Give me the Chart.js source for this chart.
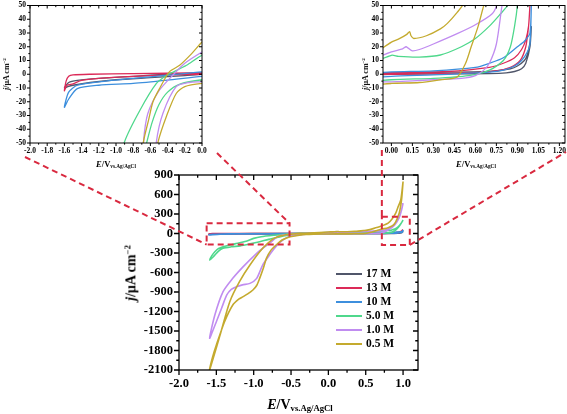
<!DOCTYPE html>
<html>
<head>
<meta charset="utf-8">
<script src="https://cdn.jsdelivr.net/npm/chart.js@4.4.1/dist/chart.umd.min.js"></script>
<style>
  body { margin: 0; background: #fff; width: 567px; height: 414px; position: relative; overflow: hidden;
         font-family: "Liberation Serif", "Times New Roman", serif; }
  canvas { position: absolute; }
  .t { position: absolute; font-weight: bold; white-space: nowrap; color: #000; line-height: 1; }
  .t sub { font-size: 0.62em; vertical-align: -0.25em; }
  .t sup { font-size: 0.62em; vertical-align: 0.6em; }
  .leg { position: absolute; font-weight: bold; font-size: 11.5px; display: flex; align-items: center; line-height: 1; }
  .leg span.ln { display: inline-block; width: 26px; height: 2px; margin-right: 4px; }
</style>
</head>
<body>
<canvas id="left" width="210" height="170" style="left:0;top:0"></canvas>
<canvas id="right" width="217" height="170" style="left:350px;top:0"></canvas>
<canvas id="main" width="295" height="230" style="left:130px;top:165px"></canvas>
<canvas id="overlay" width="567" height="414" style="left:0;top:0;pointer-events:none"></canvas>

<div class="t" style="left:7px;top:74px;font-size:8px;transform:translate(-50%,-50%) rotate(-90deg)"><i>j</i>/μA cm<sup>−2</sup></div>
<div class="t" style="left:116px;top:160px;font-size:8.5px;transform:translateX(-50%)"><i>E</i>/V<sub>vs.Ag/AgCl</sub></div>
<div class="t" style="left:366px;top:74px;font-size:8px;transform:translate(-50%,-50%) rotate(-90deg)"><i>j</i>/μA cm<sup>−2</sup></div>
<div class="t" style="left:476px;top:160px;font-size:8.5px;transform:translateX(-50%)"><i>E</i>/V<sub>vs.Ag/AgCl</sub></div>
<div class="t" style="left:131px;top:273px;font-size:14px;transform:translate(-50%,-50%) rotate(-90deg)"><i>j</i>/μA cm<sup>−2</sup></div>
<div class="t" style="left:300px;top:398px;font-size:14px;transform:translateX(-50%)"><i>E</i>/V<sub>vs.Ag/AgCl</sub></div>
<div id="legend"></div>

<script>
// concentrations (legend order)
const seriesNames = ['17 M', '13 M', '10 M', '5.0 M', '1.0 M', '0.5 M'];

// CV loops, [E (V vs Ag/AgCl), j (uA cm-2)]
const cv17 = [[1.0,35],[0.99,23],[0.97,14],[0.95,10],[0.9,6],[0.85,4],[0.7,2],[0.4,1.5],[0,1],[-0.4,0],[-0.8,-1.5],
  [-1.2,-3],[-1.45,-4.5],[-1.55,-6],[-1.6,-10],
  [-1.56,-9],[-1.5,-8],[-1.3,-6],[-1.0,-4],[-0.6,-2.5],[-0.2,-1],[0,0],[0.4,0.3],[0.7,0.5],[0.82,1],[0.88,2],
  [0.93,4],[0.96,8],[0.99,20],[1.0,35]];
const cv13 = [[1.0,60],[0.99,50],[0.98,35],[0.96,25],[0.93,18],[0.88,12],[0.8,8],[0.7,5],[0.4,2],[0,1],[-0.8,0.5],
  [-1.3,0],[-1.5,-0.5],[-1.55,-1.5],[-1.58,-5],[-1.6,-12],
  [-1.57,-8],[-1.5,-7],[-1.4,-4.5],[-1.2,-3],[-0.8,-1.5],[-0.4,-0.5],[0,0],[0.5,0.8],[0.75,2.5],[0.85,5],[0.92,10],
  [0.96,20],[0.98,35],[0.99,50],[1.0,60]];
const cv10 = [[1.0,55],[0.99,30],[0.95,24],[0.9,20],[0.8,12],[0.7,8],[0.6,5],[0.3,2.5],[0,1.7],[-0.4,-0.7],[-0.8,-3],
  [-1.2,-5.6],[-1.45,-8],[-1.55,-13],[-1.6,-24],
  [-1.55,-18],[-1.45,-10.4],[-1.2,-8],[-0.8,-6.7],[-0.4,-4.3],[0,-1.5],[0.3,-0.5],[0.5,0.5],[0.7,1.5],[0.8,3],
  [0.88,6],[0.93,10],[0.97,16],[0.99,22],[1.0,50]];
const cv5 = [[1.0,208],[0.97,150],[0.93,100],[0.89,70],[0.85,55],[0.83,50],[0.78,44],[0.7,35],[0.6,26],[0.5,20],
  [0.35,14],[0.2,12.5],[0.05,13],[0,13.8],[-0.18,6.5],[-0.33,1.7],[-0.41,-0.7],[-0.53,-6.7],[-0.72,-26],[-0.9,-49],
  [-1.0,-75],[-1.1,-120],[-1.25,-160],[-1.36,-188],[-1.47,-230],[-1.52,-280],[-1.56,-340],[-1.59,-410],
  [-1.54,-357],[-1.47,-270],[-1.41,-228],[-1.3,-205],[-1.18,-190],[-1.05,-160],[-0.92,-126],[-0.8,-90],[-0.7,-65],
  [-0.64,-49],[-0.58,-35],[-0.5,-22],[-0.4,-13],[-0.25,-7],[0,-4],[0.3,-3],[0.55,-1],[0.7,3],[0.8,10],[0.85,20],
  [0.88,35],[0.9,50],[0.94,100],[0.97,150],[1.0,208]];
const cv1 = [[1.0,465],[0.97,320],[0.945,235],[0.9,150],[0.85,100],[0.8,68],[0.76,52],[0.72,44],[0.6,36],[0.47,29.5],
  [0.3,22],[0.2,18],[0.15,17],[0.12,19],[0.105,20],[0.08,18.5],[0,16.2],[-0.2,8],[-0.34,-0.7],[-0.5,-12],
  [-0.63,-28.5],[-0.68,-49],[-0.79,-151],[-0.88,-230],[-0.96,-305],[-1.14,-510],[-1.28,-690],[-1.41,-895],
  [-1.52,-1254],[-1.59,-1612],
  [-1.5,-1357],[-1.43,-1150],[-1.36,-946],[-1.3,-860],[-1.23,-818],[-1.15,-790],[-1.05,-767],[-0.96,-690],
  [-0.88,-485],[-0.8,-350],[-0.74,-254],[-0.67,-160],[-0.61,-100],[-0.53,-49],[-0.455,-28.5],[-0.3,-9],[-0.15,-6],
  [0,-5.5],[0.3,-4],[0.5,-3],[0.6,-1],[0.66,3],[0.7,8],[0.75,22],[0.79,50],[0.85,90],[0.9,150],[0.95,260],
  [0.98,360],[1.0,465]];
const cv05 = [[1.0,800],[0.97,520],[0.93,400],[0.9,310],[0.85,220],[0.8,160],[0.7,110],[0.6,75],[0.52,52],[0.47,45],
  [0.4,37],[0.35,33],[0.25,28],[0.16,26],[0.14,28],[0.13,31],[0.11,29],[0.05,25.5],[0,23.4],[-0.12,15],[-0.26,6.5],
  [-0.38,1.7],[-0.49,-10],[-0.57,-20],[-0.62,-33],[-0.68,-49],[-0.75,-90],[-0.88,-228],[-1.05,-485],[-1.19,-741],
  [-1.32,-1049],[-1.45,-1562],[-1.59,-2100],
  [-1.55,-1900],[-1.5,-1715],[-1.39,-1357],[-1.28,-1100],[-1.2,-1010],[-1.14,-972],[-1.08,-930],[-1.01,-869],
  [-0.96,-800],[-0.92,-690],[-0.87,-530],[-0.83,-382],[-0.77,-260],[-0.7,-177],[-0.62,-100],[-0.56,-68],[-0.51,-49],
  [-0.41,-30],[-0.3,-14],[-0.2,-9],[0,-6.7],[0.2,-6],[0.35,-4],[0.47,-2],[0.53,8],[0.57,20],[0.62,35],[0.66,50],
  [0.72,68],[0.8,90],[0.86,120],[0.9,175],[0.95,320],[0.98,520],[1.0,800]];
const seriesLoops = [cv17, cv13, cv10, cv5, cv1, cv05];

// tick labels
const mainXTicks = [-2.0, -1.5, -1.0, -0.5, 0.0, 0.5, 1.0];
const mainYTicks = [900, 600, 300, 0, -300, -600, -900, -1200, -1500, -1800, -2100];
const leftXTicks = [-2.0, -1.8, -1.6, -1.4, -1.2, -1.0, -0.8, -0.6, -0.4, -0.2, 0.0];
const rightXTicks = [0.00, 0.15, 0.30, 0.45, 0.60, 0.75, 0.90, 1.05, 1.20];
const insetYTicks = [50, 40, 30, 20, 10, 0, -10, -20, -30, -40, -50];

const colors = ['#50566a', '#dc2a58', '#3d8fdd', '#4fd88c', '#c08cf0', '#c4aa2e'];
const FONT = 'Liberation Serif';

// box, mirrored ticks and minor ticks
const frame = {
  id: 'frame',
  afterDraw(chart, args, o) {
    const {ctx, chartArea: a, scales: {x, y}} = chart;
    ctx.save();
    ctx.strokeStyle = '#000';
    ctx.lineWidth = o.lw;
    ctx.strokeRect(a.left, a.top, a.right - a.left, a.bottom - a.top);
    ctx.beginPath();
    const tx = (v, len) => {
      const p = x.getPixelForValue(v);
      ctx.moveTo(p, a.bottom); ctx.lineTo(p, a.bottom + len);
      ctx.moveTo(p, a.top); ctx.lineTo(p, a.top + len);
    };
    const ty = (v, len) => {
      const p = y.getPixelForValue(v);
      ctx.moveTo(a.left, p); ctx.lineTo(a.left - len, p);
      ctx.moveTo(a.right, p); ctx.lineTo(a.right - len, p);
    };
    o.xt.forEach(v => tx(v, o.major));
    o.yt.forEach(v => ty(v, o.major));
    o.xt.forEach(v => { const m = v + o.xs / 2; if (m < x.max) tx(m, o.minor); });
    o.yt.forEach(v => { const m = v - o.ys / 2; if (m > y.min) ty(m, o.minor); });
    ctx.stroke();
    ctx.restore();
  }
};

function buildSets(lw) {
  return seriesLoops.map((pts, i) => ({
    label: seriesNames[i],
    data: pts.map(p => ({x: p[0], y: p[1]})),
    borderColor: colors[i],
    backgroundColor: colors[i],
    borderWidth: lw,
    pointRadius: 0,
    showLine: true,
    tension: 0.25,
    order: -i
  }));
}

function makeChart(id, c, extra) {
  const tickFont = {family: FONT, weight: 'bold', size: c.fs};
  return new Chart(document.getElementById(id), {
    type: 'scatter',
    data: {datasets: buildSets(c.lw)},
    options: {
      responsive: false,
      animation: false,
      layout: {padding: c.pad},
      plugins: {
        legend: {display: false},
        tooltip: {enabled: false},
        frame: {lw: c.bw, major: c.tl, minor: c.tl * 0.55, xt: c.xt, yt: c.yt, xs: c.xs, ys: c.ys}
      },
      scales: {
        x: {
          type: 'linear', min: c.xmin, max: c.xmax,
          grid: {display: false, drawTicks: true, tickLength: c.tl},
          border: {display: false},
          ticks: {color: '#000', font: tickFont, padding: 1, maxRotation: 0, minRotation: 0, autoSkip: false,
                  callback: v => Number(v).toFixed(c.xd)},
          afterBuildTicks: s => { s.ticks = c.xt.map(v => ({value: v})); },
          afterFit: s => { s.height = c.xh; }
        },
        y: {
          type: 'linear', min: c.ymin, max: c.ymax,
          grid: {display: false, drawTicks: true, tickLength: c.tl},
          border: {display: false},
          ticks: {color: '#000', font: tickFont, padding: 1, autoSkip: false,
                  callback: v => Number(v).toFixed(0)},
          afterBuildTicks: s => { s.ticks = c.yt.map(v => ({value: v})); },
          afterFit: s => { s.width = c.yw; }
        }
      }
    },
    plugins: [frame].concat(extra || [])
  });
}

makeChart('left', {
  xmin: -2.0, xmax: 0.0, ymin: -50, ymax: 50, xt: leftXTicks, yt: insetYTicks, xs: 0.2, ys: 10,
  xd: 1, fs: 7.5, lw: 1.3, bw: 1, tl: 3, pad: {left: 0, right: 8, top: 5, bottom: 0}, yw: 30, xh: 27
});

makeChart('right', {
  xmin: -0.06, xmax: 1.24, ymin: -50, ymax: 50, xt: rightXTicks, yt: insetYTicks, xs: 0.15, ys: 10,
  xd: 2, fs: 7.5, lw: 1.3, bw: 1, tl: 3, pad: {left: 0, right: 2, top: 5, bottom: 0}, yw: 33, xh: 27
});

// zoom windows marked on the main plot
const leftWindow = {x0: -1.63, x1: -0.52, y0: -170, y1: 157};
const rightWindow = {x0: 0.716, x1: 1.09, y0: -177, y1: 259};
const DASH_RED = '#d9293f';

const windows = {
  id: 'windows',
  afterDraw(chart) {
    const {ctx, scales: {x, y}} = chart;
    ctx.save();
    ctx.strokeStyle = DASH_RED;
    ctx.lineWidth = 2;
    ctx.setLineDash([6, 4]);
    [leftWindow, rightWindow].forEach(w => {
      const l = x.getPixelForValue(w.x0), r = x.getPixelForValue(w.x1);
      const t = y.getPixelForValue(w.y1), b = y.getPixelForValue(w.y0);
      ctx.strokeRect(l, t, r - l, b - t);
    });
    ctx.restore();
  }
};

const mainChart = makeChart('main', {
  xmin: -2.0, xmax: 1.2, ymin: -2100, ymax: 900, xt: mainXTicks, yt: mainYTicks, xs: 0.5, ys: 300,
  xd: 1, fs: 12.5, lw: 1.6, bw: 1.3, tl: 5, pad: {left: 0, right: 7, top: 10, bottom: 0}, yw: 49, xh: 25
}, [windows]);

// connectors from the zoom windows to the insets
(function () {
  const ox = 130, oy = 165;
  const xs = mainChart.scales.x, ys = mainChart.scales.y;
  const px = v => ox + xs.getPixelForValue(v);
  const py = v => oy + ys.getPixelForValue(v);
  const ctx = document.getElementById('overlay').getContext('2d');
  ctx.strokeStyle = DASH_RED;
  ctx.lineWidth = 2;
  ctx.setLineDash([6, 4]);
  const seg = (x1, y1, x2, y2) => { ctx.beginPath(); ctx.moveTo(x1, y1); ctx.lineTo(x2, y2); ctx.stroke(); };
  seg(25, 157, px(leftWindow.x0), py(leftWindow.y0));
  seg(217, 153, px(leftWindow.x1), py(leftWindow.y1));
  seg(px(rightWindow.x0), 150, px(rightWindow.x0), py(rightWindow.y1));
  seg(px(rightWindow.x1), py(rightWindow.y0), 566, 152);
})();

// legend
const legend = document.getElementById('legend');
seriesNames.forEach((name, i) => {
  const d = document.createElement('div');
  d.className = 'leg';
  d.style.left = '336px';
  d.style.top = (268 + i * 14) + 'px';
  d.innerHTML = '<span class="ln" style="background:' + colors[i] + '"></span>' + name;
  legend.appendChild(d);
});
</script>
</body>
</html>
